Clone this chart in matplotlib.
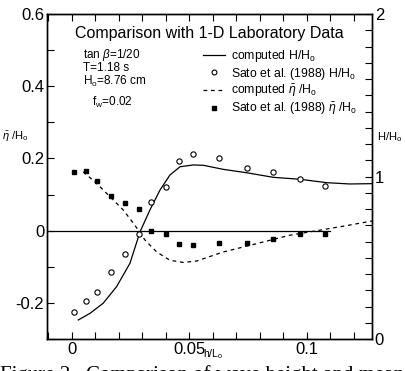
import matplotlib
matplotlib.use("Agg")
import matplotlib.pyplot as plt
from matplotlib.lines import Line2D
from matplotlib.ticker import MultipleLocator, FixedLocator

plt.rcParams['font.family'] = ['Liberation Sans', 'DejaVu Sans']
plt.rcParams['mathtext.fontset'] = 'custom'
plt.rcParams['mathtext.rm'] = 'Liberation Sans'
plt.rcParams['mathtext.it'] = 'Liberation Sans:italic'

# measured stations (Sato et al. 1988)
x_obs = [0.001, 0.006, 0.0106, 0.0167, 0.0229, 0.0288, 0.0337, 0.040, 0.0457,
         0.0516, 0.0628, 0.0748, 0.0856, 0.0972, 0.108]
H_obs = [0.168, 0.231, 0.287, 0.410, 0.521, 0.647, 0.846, 0.937, 1.096,
         1.140, 1.112, 1.054, 1.030, 0.986, 0.943]
eta_obs = [0.162, 0.164, 0.137, 0.095, 0.076, 0.059, -0.001, -0.010, -0.038,
           -0.041, -0.033, -0.033, -0.024, -0.008, -0.008]

# computed H/Ho
x_H = [0.0028, 0.0078, 0.0134, 0.0191, 0.0248, 0.0291, 0.0333, 0.0376, 0.0418,
       0.0461, 0.0517, 0.056, 0.0645, 0.0745, 0.0858, 0.0971, 0.1085, 0.1184, 0.128]
H_calc = [0.117, 0.158, 0.220, 0.322, 0.466, 0.660, 0.794, 0.917, 1.009,
          1.060, 1.071, 1.069, 1.044, 1.023, 0.995, 0.983, 0.962, 0.954, 0.956]

# computed eta/Ho
x_eta = [0.0049, 0.0106, 0.0163, 0.022, 0.0269, 0.0312, 0.0362, 0.0418, 0.0475,
         0.0532, 0.0645, 0.0787, 0.0929, 0.1071, 0.117, 0.128]
eta_calc = [0.163, 0.131, 0.094, 0.057, 0.015, -0.026, -0.059, -0.082, -0.088,
            -0.084, -0.059, -0.036, -0.0125, 0.003, 0.014, 0.027]

fig = plt.figure(figsize=(4.06, 3.71), dpi=100)
ax = fig.add_axes([47/406, 1-339/371, 325/406, 325/371])
ax2 = ax.twinx()

ax.set_xlim(-0.0105, 0.1278)
ax.set_ylim(-0.3, 0.6)
ax2.set_ylim(0, 2)

ax.plot([-0.0105, 0.11], [0, 0], color='black', lw=0.9)
ax.plot(x_eta, eta_calc, color='black', lw=0.9, ls=(0, (3, 3)))
ax.plot(x_obs, eta_obs, ls='none', marker='s', ms=3.5, color='black')
ax2.plot(x_H, H_calc, color='black', lw=0.9)
ax2.plot(x_obs, H_obs, ls='none', marker='o', ms=3.8, mfc='white', mec='black', mew=0.8)

ax.xaxis.set_major_locator(FixedLocator([0, 0.05, 0.1]))
ax.set_xticklabels(['0', '0.05', '0.1'])
ax.xaxis.set_minor_locator(MultipleLocator(0.01))
ax.yaxis.set_major_locator(FixedLocator([-0.2, 0, 0.2, 0.4, 0.6]))
ax.set_yticklabels(['-0.2', '0', '0.2', '0.4', '0.6'])
ax.yaxis.set_minor_locator(MultipleLocator(0.1))
ax2.yaxis.set_major_locator(FixedLocator([0, 1, 2]))
ax2.set_yticklabels(['0', '1', '2'])
ax2.yaxis.set_minor_locator(MultipleLocator(0.1))

ax.tick_params(which='both', direction='in', top=True, labelsize=12, pad=2)
ax.tick_params(which='major', length=5, width=0.8)
ax.tick_params(which='minor', length=5, width=0.8)
ax2.tick_params(which='both', direction='in', labelsize=12, length=5, width=0.8, pad=2)
for a in (ax, ax2):
    for s in a.spines.values():
        s.set_linewidth(1.0)

# x label sits just right of the 0.05 tick label, as in the scan
ax.text((203 - 47) / 325, -0.045, 'h/L$_\\mathrm{o}$', transform=ax.transAxes,
        fontsize=7.5, ha='left', va='center')
fig.text(2/406, 1-137/371, r'$\bar{\eta}$ /H$_\mathrm{o}$', fontsize=8, va='center')
fig.text(377/406, 1-137/371, 'H/H$_\\mathrm{o}$', fontsize=8, va='center')

ax.text(0.5, 0.94, 'Comparison with 1-D Laboratory Data', transform=ax.transAxes,
        ha='center', va='center', fontsize=11.5)
ax.text(0.11, 0.874, r'tan $\beta$=1/20', transform=ax.transAxes, fontsize=8.5, va='center')
ax.text(0.11, 0.834, 'T=1.18 s', transform=ax.transAxes, fontsize=8.5, va='center')
ax.text(0.11, 0.791, 'H$_\\mathrm{o}$=8.76 cm', transform=ax.transAxes, fontsize=8.5, va='center')
ax.text(0.14, 0.729, 'f$_\\mathrm{w}$=0.02', transform=ax.transAxes, fontsize=8.5, va='center')

handles = [
    Line2D([], [], color='black', lw=0.9),
    Line2D([], [], ls='none', marker='o', ms=3.5, mfc='white', mec='black', mew=0.8),
    Line2D([], [], color='black', lw=0.9, ls=(0, (3, 3))),
    Line2D([], [], ls='none', marker='s', ms=3.5, color='black'),
]
labels = ['computed H/H$_\\mathrm{o}$', 'Sato et al. (1988) H/H$_\\mathrm{o}$',
          r'computed $\bar{\eta}$ /H$_\mathrm{o}$', r'Sato et al. (1988) $\bar{\eta}$ /H$_\mathrm{o}$']
ax.legend(handles, labels, loc='upper left', bbox_to_anchor=(0.48, 0.895), frameon=False,
          fontsize=8.8, handlelength=1.8, handletextpad=0.5, labelspacing=0.12,
          borderaxespad=0, borderpad=0)

fig.text(0.0, 1-380/371, 'Figure 2.  Comparison of wave height and mean',
         fontsize=15, family='Liberation Serif', va='baseline')

fig.savefig('out.png', dpi=100)
